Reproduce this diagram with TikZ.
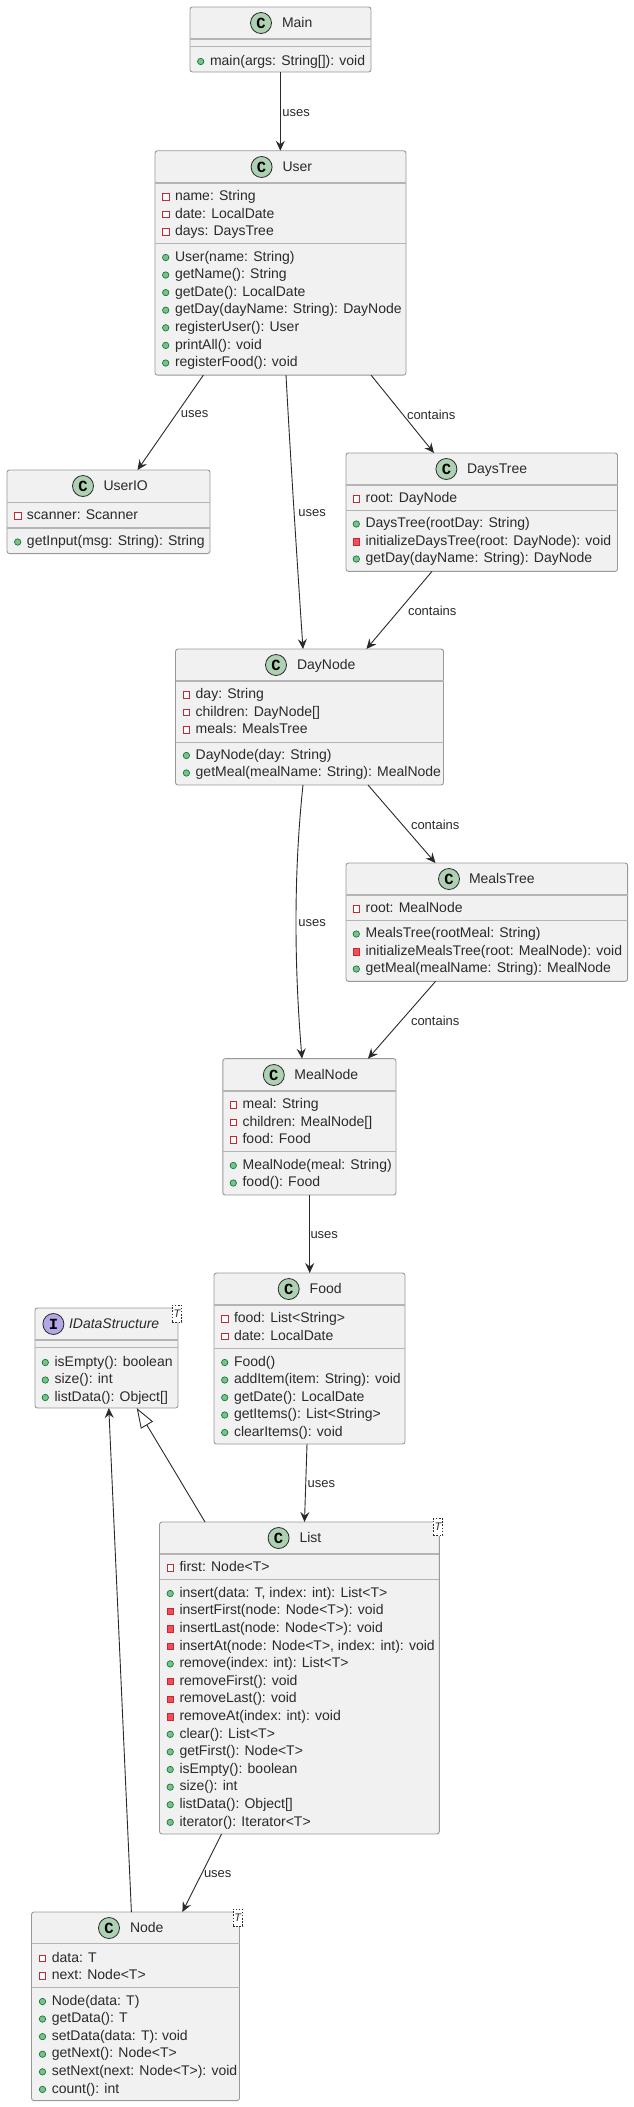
\documentclass[tikz,border=0pt]{standalone}
\usepackage{fontspec}
\setmainfont{Liberation Sans}
\setmonofont{Liberation Mono}
\usetikzlibrary{arrows.meta}
\definecolor{boxfill}{HTML}{F1F1F1}
\definecolor{boxline}{HTML}{999999}
\definecolor{ruleline}{HTML}{B4B4B4}
\definecolor{textdark}{HTML}{2A2A2A}
\definecolor{classgreen}{HTML}{ADD1B2}
\definecolor{ifacepurple}{HTML}{B4A7E5}
\definecolor{pubfill}{HTML}{84BE84}
\definecolor{publine}{HTML}{038048}
\definecolor{privfill}{HTML}{F24D5C}
\definecolor{privline}{HTML}{C82930}
\begin{document}
\begin{tikzpicture}[x=1pt,y=-1pt]
                \tikzstyle{every node}+=[inner sep=0pt,outer sep=0pt,text=textdark]
                \tikzstyle{classbox}=[draw=boxline,fill=boxfill,line width=0.9pt,rounded corners=2.5pt]
                \tikzstyle{titlerule}=[draw=ruleline,line width=1.5pt]
                \tikzstyle{partrule}=[draw=ruleline,line width=1pt]
                \tikzstyle{rowtext}=[anchor=west,font=\fontsize{14}{16}\selectfont,text height=10.5pt,text depth=3pt]
                \tikzstyle{titletext}=[rowtext]
                \tikzstyle{pubicon}=[circle,draw=publine,fill=pubfill,line width=0.7pt,minimum size=6.4pt]
                \tikzstyle{privicon}=[rectangle,draw=privline,fill=privfill,line width=0.7pt,minimum size=6.4pt]
                \tikzstyle{fieldicon}=[rectangle,draw=privline,fill=white,line width=0.8pt,minimum size=6.4pt]
                \tikzstyle{pubrow}=[rowtext,label={[pubicon,label distance=6.1pt]left:}]
                \tikzstyle{privrow}=[rowtext,label={[privicon,label distance=6.1pt]left:}]
                \tikzstyle{fieldrow}=[rowtext,label={[fieldicon,label distance=6.1pt]left:}]
                \tikzstyle{classmark}=[circle,draw=textdark,fill=classgreen,line width=0.8pt,minimum size=21pt,font=\fontsize{15.5}{16}\ttfamily\bfseries,text=black]
                \tikzstyle{ifacemark}=[classmark,fill=ifacepurple]
                \tikzstyle{tagbox}=[draw=textdark,fill=white,dash pattern=on 1.6pt off 1.6pt,line width=0.7pt,minimum width=9.6pt,minimum height=17pt,font=\fontsize{11}{12}\selectfont\itshape]
                \tikzstyle{edgetext}=[anchor=west,font=\fontsize{13}{15}\selectfont]
                \tikzstyle{useedge}=[draw=textdark,line width=0.9pt,-{Stealth[length=10pt,width=9pt,inset=3.5pt]}]
                \tikzstyle{extendedge}=[draw=textdark,line width=0.9pt,-{Triangle[open,length=20pt,width=14pt,fill=white]}]
                \useasboundingbox (0,0) rectangle (634,2107);
                \fill [white] (0,0) rectangle (634,2107);
                \draw (280.5,39.5) node [classbox,minimum width=181pt,minimum height=65pt] (main) {};
                \draw (261,23) node [classmark] (maincirc) {C};
                \draw (282,23.5) node [titletext] (maintitle) {Main};
                \draw [titlerule] (main.west |- 0,39) -- (main.east |- 0,39);
                \draw [titlerule] (main.west |- 0,46.5) -- (main.east |- 0,46.5);
                \draw (210,61.5) node [pubrow] (main1) {main(args: String[]): void};
                \draw (280.5,262.9) node [classbox,minimum width=251pt,minimum height=224.3pt] (user) {};
                \draw (261.6,167) node [classmark] (usercirc) {C};
                \draw (282.6,167.5) node [titletext] (usertitle) {User};
                \draw [titlerule] (user.west |- 0,183) -- (user.east |- 0,183);
                \draw [partrule] (user.west |- 0,243.6) -- (user.east |- 0,243.6);
                \draw (175,197) node [fieldrow] (user1) {name: String};
                \draw (175,214.5) node [fieldrow] (user2) {date: LocalDate};
                \draw (175,232) node [fieldrow] (user3) {days: DaysTree};
                \draw (175,257.5) node [pubrow] (user4) {User(name: String)};
                \draw (175,275) node [pubrow] (user5) {getName(): String};
                \draw (175,292.6) node [pubrow] (user6) {getDate(): LocalDate};
                \draw (175,310.2) node [pubrow] (user7) {getDay(dayName: String): DayNode};
                \draw (175,327.8) node [pubrow] (user8) {registerUser(): User};
                \draw (175,345.4) node [pubrow] (user9) {printAll(): void};
                \draw (175,363) node [pubrow] (user10) {registerFood(): void};
                \draw (108.5,511.8) node [classbox,minimum width=203pt,minimum height=83.6pt] (userio) {};
                \draw (83,486) node [classmark] (useriocirc) {C};
                \draw (103.5,487) node [titletext] (useriotitle) {UserIO};
                \draw [partrule] (userio.west |- 0,502.5) -- (userio.east |- 0,502.5);
                \draw [titlerule] (userio.west |- 0,528) -- (userio.east |- 0,528);
                \draw (27,516) node [fieldrow] (userio1) {scanner: Scanner};
                \draw (27,542) node [pubrow] (userio2) {getInput(msg: String): String};
                \draw (481.75,512.2) node [classbox,minimum width=271.5pt,minimum height=118.4pt] (daystree) {};
                \draw (446.4,469) node [classmark] (daystreecirc) {C};
                \draw (467,470) node [titletext] (daystreetitle) {DaysTree};
                \draw [titlerule] (daystree.west |- 0,485) -- (daystree.east |- 0,485);
                \draw [partrule] (daystree.west |- 0,510.5) -- (daystree.east |- 0,510.5);
                \draw (365.6,499) node [fieldrow] (daystree1) {root: DayNode};
                \draw (365.6,524) node [pubrow] (daystree2) {DaysTree(rootDay: String)};
                \draw (365.6,542) node [privrow] (daystree3) {initializeDaysTree(root: DayNode): void};
                \draw (365.6,559) node [pubrow] (daystree4) {getDay(dayName: String): DayNode};
                \draw (309.5,717) node [classbox,minimum width=268pt,minimum height=136pt] (daynode) {};
                \draw (276,665) node [classmark] (daynodecirc) {C};
                \draw (297,666) node [titletext] (daynodetitle) {DayNode};
                \draw [titlerule] (daynode.west |- 0,681) -- (daynode.east |- 0,681);
                \draw [partrule] (daynode.west |- 0,742) -- (daynode.east |- 0,742);
                \draw (195.7,695) node [fieldrow] (daynode1) {day: String};
                \draw (195.7,712.5) node [fieldrow] (daynode2) {children: DayNode[]};
                \draw (195.7,730) node [fieldrow] (daynode3) {meals: MealsTree};
                \draw (195.7,755.5) node [pubrow] (daynode4) {DayNode(day: String)};
                \draw (195.7,773) node [pubrow] (daynode5) {getMeal(mealName: String): MealNode};
                \draw (486.8,922.2) node [classbox,minimum width=281.6pt,minimum height=118.4pt] (mealstree) {};
                \draw (449,879) node [classmark] (mealstreecirc) {C};
                \draw (469,880) node [titletext] (mealstreetitle) {MealsTree};
                \draw [titlerule] (mealstree.west |- 0,895) -- (mealstree.east |- 0,895);
                \draw [partrule] (mealstree.west |- 0,920.5) -- (mealstree.east |- 0,920.5);
                \draw (365.6,909) node [fieldrow] (mealstree1) {root: MealNode};
                \draw (365.6,934) node [pubrow] (mealstree2) {MealsTree(rootMeal: String)};
                \draw (365.6,952) node [privrow] (mealstree3) {initializeMealsTree(root: MealNode): void};
                \draw (365.6,969) node [pubrow] (mealstree4) {getMeal(mealName: String): MealNode};
                \draw (309.4,1126.8) node [classbox,minimum width=173.2pt,minimum height=136.4pt] (mealnode) {};
                \draw (273.8,1075) node [classmark] (mealnodecirc) {C};
                \draw (294.4,1076) node [titletext] (mealnodetitle) {MealNode};
                \draw [titlerule] (mealnode.west |- 0,1091) -- (mealnode.east |- 0,1091);
                \draw [partrule] (mealnode.west |- 0,1151.5) -- (mealnode.east |- 0,1151.5);
                \draw (242.6,1105) node [fieldrow] (mealnode1) {meal: String};
                \draw (242.6,1122.5) node [fieldrow] (mealnode2) {children: MealNode[]};
                \draw (242.6,1140) node [fieldrow] (mealnode3) {food: Food};
                \draw (242.6,1165.5) node [pubrow] (mealnode4) {MealNode(meal: String)};
                \draw (242.6,1183) node [pubrow] (mealnode5) {food(): Food};
                \draw (309.5,1358.5) node [classbox,minimum width=191pt,minimum height=171pt] (food) {};
                \draw (288.7,1289) node [classmark] (foodcirc) {C};
                \draw (309.7,1290) node [titletext] (foodtitle) {Food};
                \draw [titlerule] (food.west |- 0,1305) -- (food.east |- 0,1305);
                \draw [partrule] (food.west |- 0,1348) -- (food.east |- 0,1348);
                \draw (234,1319) node [fieldrow] (food1) {food: List<String>};
                \draw (234,1336.5) node [fieldrow] (food2) {date: LocalDate};
                \draw (234,1362.5) node [pubrow] (food3) {Food()};
                \draw (234,1380) node [pubrow] (food4) {addItem(item: String): void};
                \draw (234,1397.6) node [pubrow] (food5) {getDate(): LocalDate};
                \draw (234,1415) node [pubrow] (food6) {getItems(): List<String>};
                \draw (234,1432.5) node [pubrow] (food7) {clearItems(): void};
                \draw (106.5,1358) node [classbox,minimum width=143pt,minimum height=100pt] (idata) {};
                \draw (53.4,1324) node [ifacemark] (idatacirc) {I};
                \draw (69,1325) node [titletext,font=\fontsize{14}{16}\selectfont\itshape] (idatatitle) {IDataStructure};
                \draw [titlerule] (idata.west |- 0,1340) -- (idata.east |- 0,1340);
                \draw [titlerule] (idata.west |- 0,1347.7) -- (idata.east |- 0,1347.7);
                \draw (54.6,1362.5) node [pubrow] (idata1) {isEmpty(): boolean};
                \draw (54.6,1380) node [pubrow] (idata2) {size(): int};
                \draw (54.6,1397.5) node [pubrow] (idata3) {listData(): Object[]};
                \draw (176.9,1313.4) node [tagbox] (idatatag) {T};
                \draw (299.4,1678) node [classbox,minimum width=279.8pt,minimum height=312pt] (list) {};
                \draw (278.6,1538) node [classmark] (listcirc) {C};
                \draw (299.6,1539) node [titletext] (listtitle) {List};
                \draw [titlerule] (list.west |- 0,1554) -- (list.east |- 0,1554);
                \draw [partrule] (list.west |- 0,1579.5) -- (list.east |- 0,1579.5);
                \draw (179.5,1568) node [fieldrow] (list1) {first: Node<T>};
                \draw (179.5,1593.5) node [pubrow] (list2) {insert(data: T, index: int): List<T>};
                \draw (179.5,1611.1) node [privrow] (list3) {insertFirst(node: Node<T>): void};
                \draw (179.5,1628.7) node [privrow] (list4) {insertLast(node: Node<T>): void};
                \draw (179.5,1646.3) node [privrow] (list5) {insertAt(node: Node<T>, index: int): void};
                \draw (179.5,1663.9) node [pubrow] (list6) {remove(index: int): List<T>};
                \draw (179.5,1681.5) node [privrow] (list7) {removeFirst(): void};
                \draw (179.5,1699.1) node [privrow] (list8) {removeLast(): void};
                \draw (179.5,1716.7) node [privrow] (list9) {removeAt(index: int): void};
                \draw (179.5,1734.3) node [pubrow] (list10) {clear(): List<T>};
                \draw (179.5,1751.9) node [pubrow] (list11) {getFirst(): Node<T>};
                \draw (179.5,1769.5) node [pubrow] (list12) {isEmpty(): boolean};
                \draw (179.5,1787.1) node [pubrow] (list13) {size(): int};
                \draw (179.5,1804.7) node [pubrow] (list14) {listData(): Object[]};
                \draw (179.5,1822.3) node [pubrow] (list15) {iterator(): Iterator<T>};
                \draw (437.9,1527) node [tagbox] (listtag) {T};
                \draw (135.5,2006.3) node [classbox,minimum width=208pt,minimum height=188.6pt] (nodebox) {};
                \draw (109,1928) node [classmark] (nodecirc) {C};
                \draw (130,1929) node [titletext] (nodetitle) {Node};
                \draw [titlerule] (nodebox.west |- 0,1943.6) -- (nodebox.east |- 0,1943.6);
                \draw [partrule] (nodebox.west |- 0,1987.4) -- (nodebox.east |- 0,1987.4);
                \draw (51.8,1958.4) node [fieldrow] (nodebox1) {data: T};
                \draw (51.8,1976) node [fieldrow] (nodebox2) {next: Node<T>};
                \draw (51.8,2001.5) node [pubrow] (nodebox3) {Node(data: T)};
                \draw (51.8,2019) node [pubrow] (nodebox4) {getData(): T};
                \draw (51.8,2036.6) node [pubrow] (nodebox5) {setData(data: T): void};
                \draw (51.8,2054.2) node [pubrow] (nodebox6) {getNext(): Node<T>};
                \draw (51.8,2071.8) node [pubrow] (nodebox7) {setNext(next: Node<T>): void};
                \draw (51.8,2089.4) node [pubrow] (nodebox8) {count(): int};
                \draw (237.8,1917.5) node [tagbox] (nodetag) {T};
                \draw [useedge] (280.3,0 |- main.south) -- (280.3,0 |- user.north);
                \draw (282.3,112.7) node [edgetext] (mainuses) {uses};
                \draw [useedge] (203.4,0 |- user.south) -- (137.5,0 |- userio.north);
                \draw (180.8,414.5) node [edgetext] (useriouses) {uses};
                \draw [useedge] (286,0 |- user.south) .. controls (290,450) and (297,560) .. (303,0 |- daynode.north);
                \draw (298.4,513) node [edgetext] (daynodeuses) {uses};
                \draw [useedge] (371,0 |- user.south) -- (434,0 |- daystree.north);
                \draw (407,414.5) node [edgetext] (daystreecontains) {contains};
                \draw [useedge] (432,0 |- daystree.south) -- (366.4,0 |- daynode.north);
                \draw (408,610.7) node [edgetext] (daynodecontains) {contains};
                \draw [useedge] (303,0 |- daynode.south) .. controls (295,860) and (293,950) .. (302,0 |- mealnode.north);
                \draw (298.4,923) node [edgetext] (mealnodeuses) {uses};
                \draw [useedge] (368,0 |- daynode.south) -- (435.5,0 |- mealstree.north);
                \draw (411,824.6) node [edgetext] (mealstreecontains) {contains};
                \draw [useedge] (435.5,0 |- mealstree.south) -- (368,0 |- mealnode.north);
                \draw (411,1020.7) node [edgetext] (mealnodecontains) {contains};
                \draw [useedge] (309.7,0 |- mealnode.south) -- (309.7,0 |- food.north);
                \draw (310.5,1234.6) node [edgetext] (fooduses) {uses};
                \draw [useedge] (307,0 |- food.south) -- (304.5,0 |- list.north);
                \draw (307.7,1484) node [edgetext] (listuses) {uses};
                \draw [extendedge] (205,0 |- list.north) -- (136.7,0 |- idata.south);
                \draw [useedge] (131.4,0 |- nodebox.north) -- (108.8,0 |- idata.south);
                \draw [useedge] (221.6,0 |- list.south) -- (182.4,0 |- nodebox.north);
                \draw (204,1874) node [edgetext] (nodeuses) {uses};
\end{tikzpicture}
\end{document}
